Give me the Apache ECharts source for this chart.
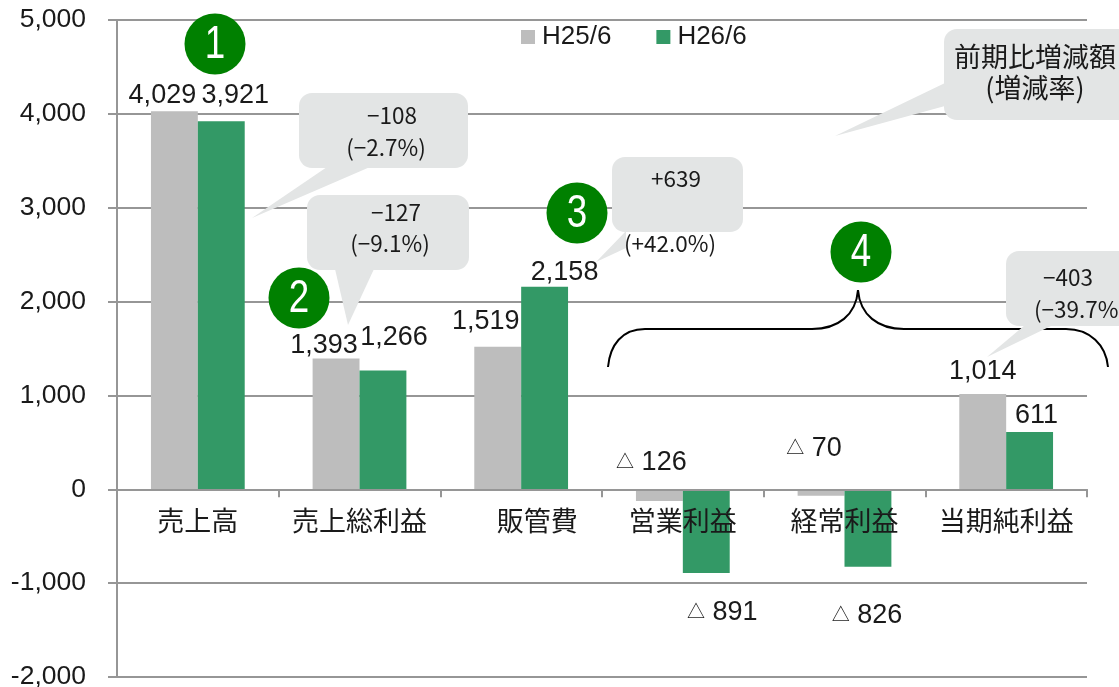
<!DOCTYPE html>
<html>
<head>
<meta charset="utf-8">
<style>
  html, body { margin: 0; padding: 0; background: #fff; }
  #chart { width: 1119px; height: 687px; }
</style>
<script src="https://cdn.jsdelivr.net/npm/echarts@6/dist/echarts.min.js"></script>
</head>
<body>
<div id="chart"></div>
<script>
const categories = ['売上高', '売上総利益', '販管費', '営業利益', '経常利益', '当期純利益']
const seriesNames = ['H25/6', 'H26/6']
const h25 = [4029, 1393, 1519, -126, -70, 1014]
const h26 = [3921, 1266, 2158, -891, -826, 611]
const yTicks = { min: -2000, max: 5000, step: 1000 }

// hand-placed data labels, as in the source slide
const h25LabelShift = [[-12, 3], [-12, 6], [-12, -7], [-8, -8], [-7, -22], [0, -4]]
const h26LabelShift = [[14, -7], [11, -14], [20, 4], [16, 142], [-1, 145], [7, 2]]

const latin = '"Liberation Sans", Arial, "Noto Sans CJK JP", sans-serif'
const jp = '"Noto Sans CJK JP", sans-serif'
const bubble = '#E3E5E5'
const ink = '#1a1a1a'

const fmtLabel = v => (v < 0 ? '{tri|△} ' + Math.abs(v) : v.toLocaleString('en-US'))

const withShift = (values, shifts) =>
  values.map((v, i) => ({ value: v, label: { offset: shifts[i] } }))

const barSeries = (name, values, shifts, color) => ({
  name,
  type: 'bar',
  barWidth: '29%',
  barGap: 0,
  itemStyle: { color },
  label: {
    show: true,
    position: 'top',
    distance: 5,
    fontFamily: latin,
    fontSize: 27,
    color: ink,
    formatter: p => fmtLabel(p.value),
    rich: { tri: { fontSize: 18, fontFamily: latin, color: ink } }
  },
  data: withShift(values, shifts)
})

// speech bubble: rounded box + tail
const callout = (x, y, w, h, tail) => [
  { type: 'polygon', z: 10, shape: { points: tail }, style: { fill: bubble } },
  { type: 'rect', z: 10, shape: { x, y, width: w, height: h, r: 13 }, style: { fill: bubble } }
]

const note = (x, y, text, size) => ({
  type: 'text', z: 12, x, y,
  style: { text, fill: ink, font: `${size || 22.5}px ${jp}`, textAlign: 'center', textVerticalAlign: 'middle' }
})

const badge = (x, y, n) => [
  { type: 'circle', z: 11, shape: { cx: x, cy: y, r: 30.5 }, style: { fill: '#008000' } },
  {
    type: 'text', z: 12, x, y: y + 1, scaleX: 0.8,
    style: { text: n, fill: '#fff', font: `46px ${latin}`, textAlign: 'center', textVerticalAlign: 'middle' }
  }
]

const braceLine = { fill: 'none', stroke: '#000', lineWidth: 2 }
const curve = (x1, y1, cpx1, cpy1, cpx2, cpy2, x2, y2) => ({
  type: 'bezierCurve', z: 9,
  shape: { x1, y1, cpx1, cpy1, cpx2, cpy2, x2, y2 },
  style: braceLine
})
const straight = (x1, y1, x2, y2) => ({
  type: 'line', z: 9, shape: { x1, y1, x2, y2 }, style: braceLine
})

const graphics = [
  curve(608, 367, 610, 345, 622, 329, 645, 329),
  straight(645, 329, 812, 329),
  curve(812, 329, 838, 329, 856, 315, 858, 290),
  curve(858, 290, 860, 315, 878, 329, 904, 329),
  straight(904, 329, 1066, 329),
  curve(1066, 329, 1090, 329, 1106, 345, 1108, 367),
  ...callout(299, 93, 169, 75, [[327, 167], [370, 167], [252, 218]]),
  ...callout(307, 195, 162, 75, [[335, 269], [374, 269], [348, 325]]),
  ...callout(612, 157, 131, 75, [[626, 231], [626, 248], [596, 262]]),
  ...callout(944, 29, 200, 91, [[945, 83], [945, 106], [835, 136]]),
  ...callout(1006, 251, 140, 75, [[1025, 325], [1053, 325], [987, 357]]),
  note(392, 115, '−108'),
  note(386, 147, '(−2.7%)'),
  note(396, 212, '−127'),
  note(390, 243, '(−9.1%)'),
  note(676, 178, '+639'),
  note(670, 243, '(+42.0%)'),
  note(1068, 277, '−403'),
  note(1080, 309, '(−39.7%)'),
  note(1035, 57, '前期比増減額', 27),
  note(1035, 88, '(増減率)', 27),
  ...badge(215, 44, '1'),
  ...badge(299, 298, '2'),
  ...badge(577, 213, '3'),
  ...badge(861, 252, '4')
]

const axisStroke = { color: '#969696', width: 2 }

// 販管費 sits right of its slot in the original
const categoryData = categories.map((c, i) =>
  i === 2 ? { value: c, textStyle: { padding: [0, 0, 0, 32] } } : c
)

const chart = echarts.init(document.getElementById('chart'))
chart.setOption({
  animation: false,
  backgroundColor: '#fff',
  grid: { left: 117, right: 32, top: 20, bottom: 10, outerBoundsMode: 'none' },
  legend: {
    data: seriesNames,
    left: 516,
    top: 19,
    icon: 'rect',
    itemWidth: 14,
    itemHeight: 14,
    itemGap: 45,
    textStyle: { fontFamily: latin, fontSize: 26, color: ink, padding: [0, 0, 0, 2] }
  },
  xAxis: {
    type: 'category',
    data: categoryData,
    position: 'bottom',
    // axis sits at value 0, labels follow it down over the negative bars
    offset: -187.7,
    axisLine: { onZero: false, lineStyle: axisStroke },
    axisTick: { show: true, length: 8, lineStyle: { color: '#969696', width: 2 } },
    axisLabel: { margin: 18, fontFamily: jp, fontSize: 27, color: ink, interval: 0 },
    z: 5
  },
  yAxis: {
    type: 'value',
    min: yTicks.min,
    max: yTicks.max,
    interval: yTicks.step,
    axisLine: { show: true, lineStyle: axisStroke },
    axisTick: { show: true, length: 9, lineStyle: { color: '#969696', width: 2 } },
    axisLabel: {
      margin: 31,
      fontFamily: latin,
      fontSize: 26.5,
      color: ink,
      formatter: v => v.toLocaleString('en-US')
    },
    splitLine: { lineStyle: axisStroke }
  },
  series: [
    barSeries(seriesNames[0], h25, h25LabelShift, '#BDBDBD'),
    barSeries(seriesNames[1], h26, h26LabelShift, '#339966')
  ],
  graphic: graphics
})
</script>
</body>
</html>
